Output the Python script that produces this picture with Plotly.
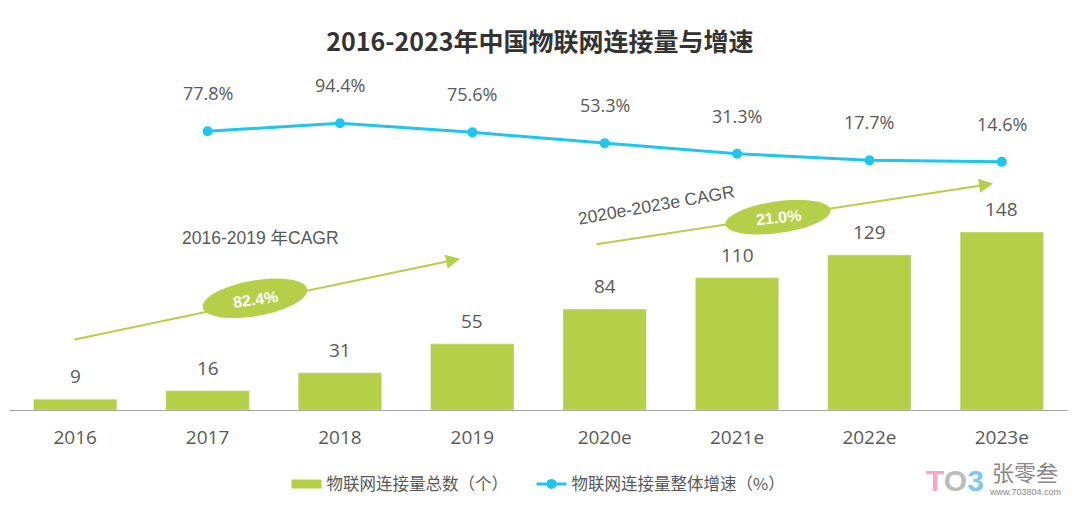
import math
import plotly.graph_objects as go

categories = ["2016", "2017", "2018", "2019", "2020e", "2021e", "2022e", "2023e"]
connections = [9, 16, 31, 55, 84, 110, 129, 148]
growth_cats = ["2017", "2018", "2019", "2020e", "2021e", "2022e", "2023e"]
growth = [77.8, 94.4, 75.6, 53.3, 31.3, 17.7, 14.6]

GREEN = "#b5cf48"
CYAN = "#1cc6ef"
GRAY = "#595959"
FONT = "Open Sans, Noto Sans CJK SC, sans-serif"
ARIAL = "Liberation Sans, Arial, Noto Sans CJK SC, sans-serif"

W, H = 1080, 511
L, R, T, B = 9, 12, 60, 97
PW, PH = W - L - R, H - T - B


def px2paper(x, y):
    return (x - L) / PW, (H - B - y) / PH


def ellipse_path(cx, cy, rx, ry, ang, n=60):
    a = math.radians(ang)
    pts = []
    for i in range(n):
        t = 2 * math.pi * i / n
        ex, ey = rx * math.cos(t), ry * math.sin(t)
        x = cx + ex * math.cos(a) - ey * math.sin(a)
        y = cy - (ex * math.sin(a) + ey * math.cos(a))
        px, py = px2paper(x, y)
        pts.append(f"{px:.5f},{py:.5f}")
    return "M" + " L".join(pts) + " Z"


fig = go.Figure()
fig.add_trace(go.Bar(
    x=categories, y=connections, marker_color=GREEN, width=0.63,
    showlegend=False, name="物联网连接量总数（个）", yaxis="y",
))
fig.add_trace(go.Scatter(
    x=[None], y=[None], mode="lines", line=dict(color=GREEN, width=9),
    name="物联网连接量总数（个）\u00a0\u00a0\u00a0\u00a0\u00a0",
))
fig.add_trace(go.Scatter(
    x=growth_cats, y=growth, mode="lines+markers", yaxis="y2",
    line=dict(color=CYAN, width=3), marker=dict(color=CYAN, size=10),
    name="物联网连接量整体增速（%）",
))

annotations = []
for c, v in zip(categories, connections):
    annotations.append(dict(x=categories.index(c), y=v, xref="x", yref="y", text=str(v), showarrow=False,
                            xanchor="center", yanchor="bottom", yshift=8,
                            font=dict(size=19, color=GRAY, family=FONT)))
for c, v in zip(growth_cats, growth):
    annotations.append(dict(x=categories.index(c), y=v, xref="x", yref="y2", text=f"{v:.1f}%", showarrow=False,
                            xanchor="center", yanchor="bottom", yshift=24,
                            font=dict(size=18, color=GRAY, family=FONT)))

# CAGR arrows
for (x0, y0, x1, y1) in [(73, 342, 460, 261), (595, 246, 993, 185)]:
    tx, ty = px2paper(x1, y1)
    annotations.append(dict(x=tx, y=ty, xref="paper", yref="paper", text="", showarrow=True,
                            ax=x0 - x1, ay=y0 - y1, axref="pixel", ayref="pixel",
                            arrowhead=2, arrowsize=1.4, arrowwidth=2, arrowcolor=GREEN))

shapes = [
    dict(type="path", xref="paper", yref="paper", path=ellipse_path(255, 301, 53, 18, 10),
         fillcolor=GREEN, line=dict(width=0)),
    dict(type="path", xref="paper", yref="paper", path=ellipse_path(778, 219, 53, 16, 8),
         fillcolor=GREEN, line=dict(width=0)),
]

for (x, y, txt, ang, sz, col, fam, bold) in [
    (255, 302, "82.4%", -8, 16, "white", ARIAL, True),
    (778, 219, "21.0%", -6, 16, "white", ARIAL, True),
    (260, 240, "2016-2019 年CAGR", 0, 17.5, GRAY, ARIAL, False),
    (656, 207, "2020e-2023e CAGR", -10, 17.5, GRAY, ARIAL, False),
]:
    px, py = px2paper(x, y)
    annotations.append(dict(x=px, y=py, xref="paper", yref="paper", showarrow=False,
                            xanchor="center", yanchor="middle",
                            text=f"<b>{txt}</b>" if bold else txt, textangle=ang,
                            font=dict(size=sz, color=col, family=fam)))

# watermark
for (x, y, txt, sz, col, fam) in [
    (955, 485, "<b><span style='color:#f4a6c8'>T</span><span style='color:#bbbbbb'>O</span>"
               "<span style='color:#7fc8f0'>3</span></b>", 30, "#888888", ARIAL),
    (1025, 476, "张零叁", 22, "#888888", "Noto Sans CJK SC"),
    (1025, 497, "www.703804.com", 9, "#888888", ARIAL),
]:
    px, py = px2paper(x, y)
    annotations.append(dict(x=px, y=py, xref="paper", yref="paper", showarrow=False, text=txt,
                            xanchor="center", yanchor="middle",
                            font=dict(size=sz, color=col, family=fam)))

fig.update_layout(
    width=W, height=H,
    margin=dict(l=L, r=R, t=T, b=B),
    paper_bgcolor="white", plot_bgcolor="white",
    title=dict(text="<b>2016-2023年中国物联网连接量与增速</b>", x=0.5, xanchor="center",
               y=1 - 42 / H, yanchor="middle",
               font=dict(size=25, color="#333333", family="Noto Sans CJK SC, sans-serif")),
    xaxis=dict(type="category", categoryorder="array", categoryarray=categories,
               range=[-0.5, 7.5], showline=True, linecolor="#a6a6a6", linewidth=1,
               ticks="", ticklabelstandoff=10, showgrid=False,
               tickfont=dict(size=19, color=GRAY, family=FONT)),
    yaxis=dict(range=[0, 291.1], visible=False, showgrid=False),
    yaxis2=dict(range=[-498.7, 225.3], overlaying="y", visible=False, showgrid=False),
    legend=dict(orientation="h", x=0.5, xanchor="center", y=(H - B - 489) / PH, yanchor="middle",
                font=dict(size=16.5, color=GRAY, family="Noto Sans CJK SC, sans-serif"),
                itemwidth=30, traceorder="normal"),
    annotations=annotations,
    shapes=shapes,
    showlegend=True,
)

fig.write_html("out.html", config={"displayModeBar": False},
               post_script="document.body.style.margin='0';")
